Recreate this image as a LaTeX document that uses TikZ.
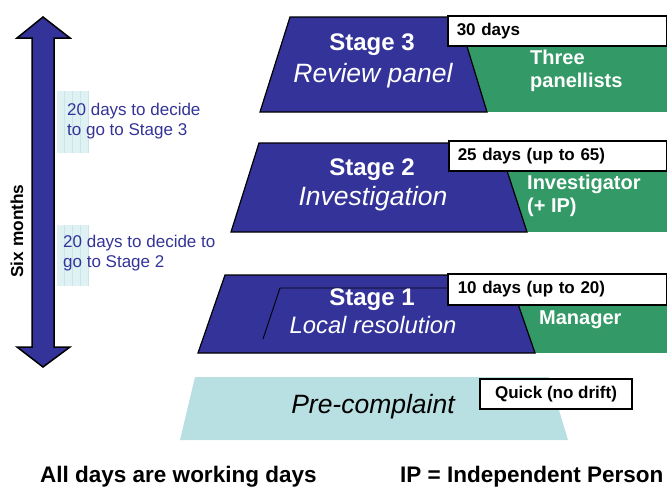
\documentclass[tikz,border=0pt]{standalone}
\usepackage{fontspec}
\setmainfont{Liberation Sans}
\usetikzlibrary{positioning}
\definecolor{stageblue}{HTML}{333399}
\definecolor{staffgreen}{HTML}{339966}
\definecolor{preblue}{HTML}{B8DFE1}
\definecolor{gridcyan}{HTML}{E0F1F3}
\definecolor{gridline}{HTML}{C9E5E8}

\begin{document}
\begin{tikzpicture}[x=1pt,y=-1pt,
stageshape/.style={fill=stageblue, draw=black, line width=1.2pt, line join=miter},
staffarea/.style={fill=staffgreen},
daysbox/.style={rectangle, draw=black, fill=white, line width=1.5pt, minimum height=30pt, align=left, font=\fontsize{17}{19}\selectfont\bfseries},
stagetitle/.style={anchor=mid, inner sep=0pt, text=white, font=\fontsize{24}{27}\selectfont\bfseries},
stagename/.style={anchor=mid, inner sep=0pt, text=white, font=\fontsize{26.5}{29}\selectfont\itshape},
stafftext/.style={anchor=west, inner sep=0pt, align=left, text=white, font=\fontsize{20}{23}\selectfont\bfseries},
notetext/.style={anchor=west, inner sep=0pt, align=left, text=stageblue, font=\fontsize{17}{20}\selectfont},
foottext/.style={anchor=mid west, inner sep=0pt, font=\fontsize{22.5}{25}\selectfont\bfseries},
]
\useasboundingbox (0,0) rectangle (667,488);

%Shapes
\fill[staffarea] (440,17) rectangle (667,112);
\fill[staffarea] (450,143) rectangle (667,232);
\fill[staffarea] (450,275) rectangle (667,353);
\draw[stageshape] (290,17) -- (458,17) -- (487,112) -- (260,112) -- cycle;
\draw[stageshape] (259,143) -- (498,143) -- (527,232) -- (231,232) -- cycle;
\draw[stageshape] (225,275) -- (508,275) -- (535,353) -- (198,353) -- cycle;
\draw[black, line width=0.8pt] (263,339) -- (280,288) -- (447,288);
\fill[preblue] (195,377) -- (549,377) -- (568,440) -- (180,440) -- cycle;

%Arrow
\draw[stageshape, line width=1.5pt] (43,17) -- (70,38) -- (54,38) -- (54,347) -- (70,347) -- (43,367)
  -- (17,347) -- (32,347) -- (32,38) -- (17,38) -- cycle;
\node[rotate=90, inner sep=0pt, font=\fontsize{17.3}{19}\selectfont\bfseries] (sixmonths) at (17,231) {Six months};

%Grids
\fill[gridcyan] (57,91) rectangle (88,153);
\draw[gridline, line width=0.4pt, step=8] (57,91) grid (88,153);
\fill[gridcyan] (57,225) rectangle (88,286);
\draw[gridline, line width=0.4pt, step=8] (57,225) grid (88,286);

%Days boxes
\node[daysbox, minimum width=219pt, text width=201pt, inner xsep=9pt, anchor=north west] (days3) at (447,15) {30 days};
\node[daysbox, minimum width=218pt, text width=200pt, inner xsep=9pt, anchor=north west] (days2) at (448,140) {25 days (up to 65)};
\node[daysbox, minimum width=219pt, minimum height=31pt, text width=199pt, inner xsep=10pt, anchor=north west] (days1) at (447,273) {10 days (up to 20)};
\node[daysbox, minimum width=152pt, align=center] (quick) at (556,394) {Quick (no drift)};

%Text
\node[stagetitle] (stage3) at (372,48) {Stage 3};
\node[stagename] (review) at (373,80) {Review panel};
\node[stagetitle] (stage2) at (372,173) {Stage 2};
\node[stagename] (investigation) at (373,203) {Investigation};
\node[stagetitle] (stage1) at (372,303) {Stage 1};
\node[stagename, font=\fontsize{23.8}{26}\selectfont\itshape] (local) at (373,331) {Local resolution};
\node[stagename, text=black] (precomplaint) at (373,411) {Pre-complaint};
\node[stafftext] (panel) at (530,71) {Three\\panellists};
\node[stafftext] (investigator) at (527,196) {Investigator\\(+ IP)};
\node[stafftext, anchor=mid west] (manager) at (539,322) {Manager};
\node[notetext] (decide3) at (67,121) {20 days to decide\\to go to Stage 3};
\node[notetext] (decide2) at (63,253) {20 days to decide to\\go to Stage 2};
\node[foottext] (working) at (40,480) {All days are working days};
\node[foottext] (ipnote) at (400,480) {IP = Independent Person};
\end{tikzpicture}
\end{document}
